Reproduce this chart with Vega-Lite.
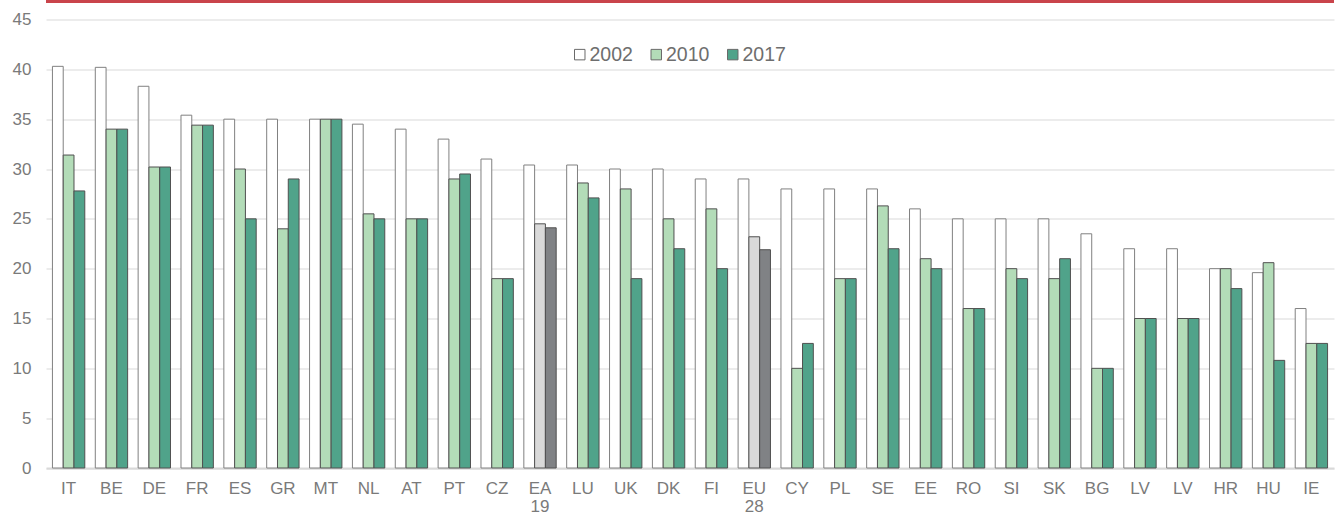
{
  "$schema": "https://vega.github.io/schema/vega-lite/v6.json",
  "autosize": {"type": "none"},
  "width": 1288,
  "height": 448.5,
  "padding": {"left": 46, "top": 19.5, "right": 3, "bottom": 46},
  "background": "#ffffff",
  "config": {
    "view": {"stroke": null},
    "font": "Liberation Sans",
    "axis": {"labelFont": "Liberation Sans", "labelColor": "#7a7a7a", "labelFontSize": 17}
  },
  "data": {"values": [
    {"geo": "IT", "year": "2002", "value": 40.3}, {"geo": "IT", "year": "2010", "value": 31.4}, {"geo": "IT", "year": "2017", "value": 27.8},
    {"geo": "BE", "year": "2002", "value": 40.2}, {"geo": "BE", "year": "2010", "value": 34}, {"geo": "BE", "year": "2017", "value": 34},
    {"geo": "DE", "year": "2002", "value": 38.3}, {"geo": "DE", "year": "2010", "value": 30.2}, {"geo": "DE", "year": "2017", "value": 30.2},
    {"geo": "FR", "year": "2002", "value": 35.4}, {"geo": "FR", "year": "2010", "value": 34.4}, {"geo": "FR", "year": "2017", "value": 34.4},
    {"geo": "ES", "year": "2002", "value": 35}, {"geo": "ES", "year": "2010", "value": 30}, {"geo": "ES", "year": "2017", "value": 25},
    {"geo": "GR", "year": "2002", "value": 35}, {"geo": "GR", "year": "2010", "value": 24}, {"geo": "GR", "year": "2017", "value": 29},
    {"geo": "MT", "year": "2002", "value": 35}, {"geo": "MT", "year": "2010", "value": 35}, {"geo": "MT", "year": "2017", "value": 35},
    {"geo": "NL", "year": "2002", "value": 34.5}, {"geo": "NL", "year": "2010", "value": 25.5}, {"geo": "NL", "year": "2017", "value": 25},
    {"geo": "AT", "year": "2002", "value": 34}, {"geo": "AT", "year": "2010", "value": 25}, {"geo": "AT", "year": "2017", "value": 25},
    {"geo": "PT", "year": "2002", "value": 33}, {"geo": "PT", "year": "2010", "value": 29}, {"geo": "PT", "year": "2017", "value": 29.5},
    {"geo": "CZ", "year": "2002", "value": 31}, {"geo": "CZ", "year": "2010", "value": 19}, {"geo": "CZ", "year": "2017", "value": 19},
    {"geo": "EA19", "year": "2002", "value": 30.4}, {"geo": "EA19", "year": "2010", "value": 24.5}, {"geo": "EA19", "year": "2017", "value": 24.1},
    {"geo": "LU", "year": "2002", "value": 30.4}, {"geo": "LU", "year": "2010", "value": 28.6}, {"geo": "LU", "year": "2017", "value": 27.1},
    {"geo": "UK", "year": "2002", "value": 30}, {"geo": "UK", "year": "2010", "value": 28}, {"geo": "UK", "year": "2017", "value": 19},
    {"geo": "DK", "year": "2002", "value": 30}, {"geo": "DK", "year": "2010", "value": 25}, {"geo": "DK", "year": "2017", "value": 22},
    {"geo": "FI", "year": "2002", "value": 29}, {"geo": "FI", "year": "2010", "value": 26}, {"geo": "FI", "year": "2017", "value": 20},
    {"geo": "EU28", "year": "2002", "value": 29}, {"geo": "EU28", "year": "2010", "value": 23.2}, {"geo": "EU28", "year": "2017", "value": 21.9},
    {"geo": "CY", "year": "2002", "value": 28}, {"geo": "CY", "year": "2010", "value": 10}, {"geo": "CY", "year": "2017", "value": 12.5},
    {"geo": "PL", "year": "2002", "value": 28}, {"geo": "PL", "year": "2010", "value": 19}, {"geo": "PL", "year": "2017", "value": 19},
    {"geo": "SE", "year": "2002", "value": 28}, {"geo": "SE", "year": "2010", "value": 26.3}, {"geo": "SE", "year": "2017", "value": 22},
    {"geo": "EE", "year": "2002", "value": 26}, {"geo": "EE", "year": "2010", "value": 21}, {"geo": "EE", "year": "2017", "value": 20},
    {"geo": "RO", "year": "2002", "value": 25}, {"geo": "RO", "year": "2010", "value": 16}, {"geo": "RO", "year": "2017", "value": 16},
    {"geo": "SI", "year": "2002", "value": 25}, {"geo": "SI", "year": "2010", "value": 20}, {"geo": "SI", "year": "2017", "value": 19},
    {"geo": "SK", "year": "2002", "value": 25}, {"geo": "SK", "year": "2010", "value": 19}, {"geo": "SK", "year": "2017", "value": 21},
    {"geo": "BG", "year": "2002", "value": 23.5}, {"geo": "BG", "year": "2010", "value": 10}, {"geo": "BG", "year": "2017", "value": 10},
    {"geo": "LV", "year": "2002", "value": 22}, {"geo": "LV", "year": "2010", "value": 15}, {"geo": "LV", "year": "2017", "value": 15},
    {"geo": "LV2", "year": "2002", "value": 22}, {"geo": "LV2", "year": "2010", "value": 15}, {"geo": "LV2", "year": "2017", "value": 15},
    {"geo": "HR", "year": "2002", "value": 20}, {"geo": "HR", "year": "2010", "value": 20}, {"geo": "HR", "year": "2017", "value": 18},
    {"geo": "HU", "year": "2002", "value": 19.6}, {"geo": "HU", "year": "2010", "value": 20.6}, {"geo": "HU", "year": "2017", "value": 10.8},
    {"geo": "IE", "year": "2002", "value": 16}, {"geo": "IE", "year": "2010", "value": 12.5}, {"geo": "IE", "year": "2017", "value": 12.5}
  ]},
  "layer": [
    {
      "mark": {"type": "bar", "strokeWidth": 1},
      "encoding": {
        "x": {
          "field": "geo", "type": "nominal", "sort": null,
          "scale": {"paddingInner": 0.245, "paddingOuter": 0.15},
          "axis": {
            "title": null, "labelAngle": 0, "ticks": false,
            "domainColor": "#d9d9d9", "domainWidth": 2,
            "labelPadding": 12, "labelLineHeight": 18, "labelBaseline": "top",
            "labelExpr": "datum.value === 'EA19' ? ['EA','19'] : datum.value === 'EU28' ? ['EU','28'] : datum.value === 'LV2' ? 'LV' : datum.value"
          }
        },
        "xOffset": {"field": "year", "type": "nominal", "scale": {"paddingInner": 0, "paddingOuter": 0}},
        "y": {
          "field": "value", "type": "quantitative",
          "scale": {"domain": [0, 45], "nice": false, "zero": true},
          "axis": {
            "title": null, "domain": false, "ticks": false,
            "values": [0, 5, 10, 15, 20, 25, 30, 35, 40, 45],
            "gridColor": "#d9d9d9", "gridWidth": 1, "labelPadding": 15
          }
        },
        "color": {
          "field": "year", "type": "nominal",
          "scale": {"domain": ["2002", "2010", "2017"], "range": ["#ffffff", "#b3dcb8", "#50a38a"]},
          "condition": [
            {"test": "(datum.geo === 'EA19' || datum.geo === 'EU28') && datum.year === '2010'", "value": "#d9d9d9"},
            {"test": "(datum.geo === 'EA19' || datum.geo === 'EU28') && datum.year === '2017'", "value": "#808285"}
          ],
          "legend": {
            "title": null, "orient": "none", "direction": "horizontal",
            "legendX": 524, "legendY": 25,
            "symbolType": "square", "symbolSize": 110,
            "symbolStrokeColor": "#6a6a6a", "symbolStrokeWidth": 1,
            "labelFont": "Liberation Sans", "labelFontSize": 19.5, "labelColor": "#6e6e6e",
            "labelOffset": 0, "columnPadding": 13.5
          }
        },
        "stroke": {
          "condition": {"test": "datum.year === '2002'", "value": "#808080"},
          "value": "#505050"
        }
      }
    },
    {
      "mark": {"type": "rule", "color": "#c9444b", "strokeWidth": 3, "clip": false},
      "encoding": {
        "y": {"datum": 46.85, "type": "quantitative", "scale": {"domain": [0, 45], "nice": false}}
      }
    }
  ]
}
